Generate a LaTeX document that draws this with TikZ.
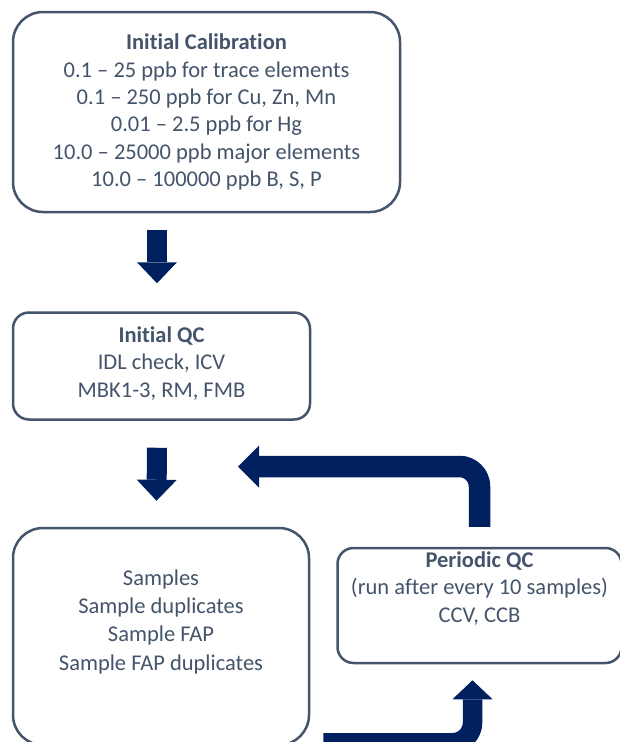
\documentclass[tikz,border=0pt]{standalone}
\usepackage{fontspec}
\setmainfont[Ligatures={NoCommon}]{Carlito}
\usepackage{xcolor}
\usetikzlibrary{positioning,arrows.meta}
\definecolor{slate}{HTML}{44546A}
\definecolor{navy}{HTML}{002060}

\begin{document}
\begin{tikzpicture}[
  x=1pt, y=-1pt,
  every text node part/.style={align=center},
  box/.style={draw=slate, line width=2.5pt, fill=white, rectangle, text=slate, inner sep=0pt, font=\fontsize{22.5pt}{27.3pt}\selectfont},
  bigbox/.style={box, rounded corners=30pt},
  smallbox/.style={box, rounded corners=16pt},
  arr/.style={draw=navy, line width=20pt, -{Triangle[width=40pt,length=21pt,line width=0pt]}},
  loop/.style={draw=navy, line width=#1, rounded corners=20pt}
]
  \useasboundingbox (0,0) rectangle (620,742);

  \node[bigbox, minimum width=387pt, minimum height=200pt] (calib) at (206.5,112)
    {\textbf{Initial Calibration}\\0.1 – 25 ppb for trace elements\\0.1 – 250 ppb for Cu, Zn, Mn\\0.01 – 2.5 ppb for Hg\\10.0 – 25000 ppb major elements\\10.0 – 100000 ppb B, S, P};
  \node[smallbox, minimum width=297pt, minimum height=107pt, below right=98pt and 0pt of calib.south west] (initqc)
    {\textbf{Initial QC}\\IDL check, ICV\\MBK1-3, RM, FMB\\[-19pt]};
  \node[bigbox, minimum width=296pt, minimum height=217pt, below right=106pt and 0pt of initqc.south west] (samples)
    {Samples\\[1pt]Sample duplicates\\[1pt]Sample FAP\\[1pt]Sample FAP duplicates\\[6pt]};
  \node[smallbox, minimum width=284pt, minimum height=115pt, below right=20pt and 26pt of samples.north east] (periodic)
    {\textbf{Periodic QC}\\(run after every 10 samples)\\CCV, CCB\\[10pt]};
  \coordinate (backtip) at (238,466.5);

  \draw[arr] ([xshift=-4.5pt,yshift=-17pt]calib.south -| initqc.north) -- ([xshift=-4.5pt,yshift=28pt]initqc.north);
  \draw[arr] ([xshift=-4.5pt,yshift=-27pt]initqc.south) -- ([xshift=-4.5pt,yshift=26pt]samples.north);
  \draw[loop=21.5pt, -{Triangle[width=42pt,length=21pt,line width=0pt]}] ([yshift=20pt]periodic.north) |- (backtip);
  \draw[loop=19.5pt, -{Triangle[width=40pt,length=19pt,line width=0pt]}] ([xshift=13pt,yshift=3.5pt]samples.south east) -| ([xshift=-7pt,yshift=-16pt]periodic.south);
\end{tikzpicture}
\end{document}
